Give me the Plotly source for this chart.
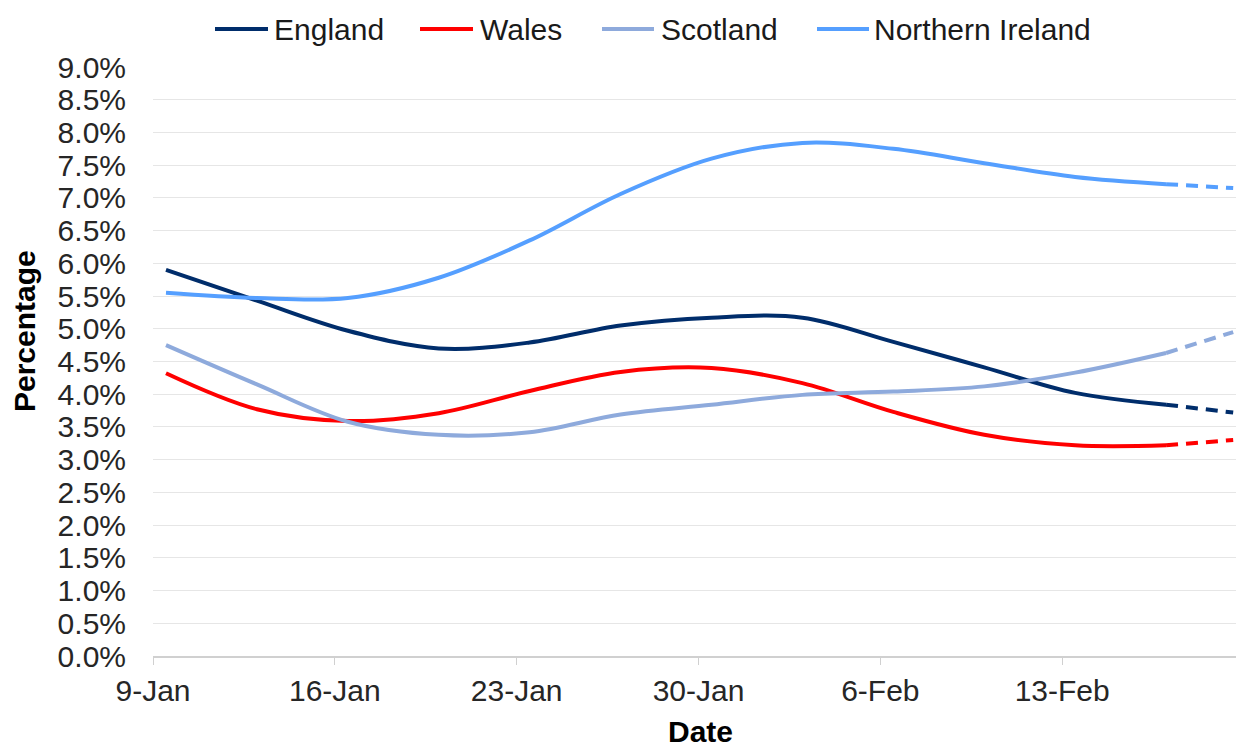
import plotly.graph_objects as go

# ---------------- data ----------------
dates_solid = [
    "2022-01-09 12:00", "2022-01-13 00:00", "2022-01-16 12:00", "2022-01-20 00:00",
    "2022-01-23 12:00", "2022-01-27 00:00", "2022-01-30 12:00", "2022-02-03 00:00",
    "2022-02-06 12:00", "2022-02-10 00:00", "2022-02-13 12:00", "2022-02-17 00:00",
]
dates_dashed = ["2022-02-17 00:00", "2022-02-19 14:00"]

england = [5.90, 5.43, 4.97, 4.70, 4.79, 5.05, 5.17, 5.17, 4.80, 4.41, 4.02, 3.84]
wales = [4.32, 3.77, 3.59, 3.71, 4.05, 4.34, 4.40, 4.17, 3.73, 3.38, 3.22, 3.22]
scotland = [4.75, 4.15, 3.58, 3.38, 3.42, 3.69, 3.84, 3.99, 4.04, 4.12, 4.33, 4.63]
n_ireland = [5.55, 5.47, 5.47, 5.78, 6.35, 7.06, 7.60, 7.84, 7.75, 7.53, 7.32, 7.21]

england_proj = [3.84, 3.72]
wales_proj = [3.22, 3.30]
scotland_proj = [4.63, 4.95]
n_ireland_proj = [7.21, 7.15]

series_names = ["England", "Wales", "Scotland", "Northern Ireland"]
series_colors = ["#002d6b", "#ff0000", "#8eaadc", "#559fff"]

tick_dates = ["2022-01-09", "2022-01-16", "2022-01-23", "2022-01-30", "2022-02-06", "2022-02-13"]
tick_labels = ["9-Jan", "16-Jan", "23-Jan", "30-Jan", "6-Feb", "13-Feb"]

y_ticks = [i * 0.5 for i in range(19)]
y_tick_labels = [f"{v:.1f}%" for v in y_ticks]

# ---------------- figure ----------------
FONT = "Liberation Sans, Arial, sans-serif"
PAGE_PAD = 8  # default body margin of the html page
W, H = 1244 - PAGE_PAD, 747 - PAGE_PAD
# plot area in window pixels: x 153..1244, y 67..656
ML = 153 - PAGE_PAD
MT = 67 - PAGE_PAD
MR = 0
MB = (PAGE_PAD + H) - 656
PW, PH = W - ML - MR, H - MT - MB

fig = go.Figure()

solid = [england, wales, scotland, n_ireland]
proj = [england_proj, wales_proj, scotland_proj, n_ireland_proj]

for name, color, vals, pvals in zip(series_names, series_colors, solid, proj):
    fig.add_trace(go.Scatter(
        x=dates_solid, y=vals, mode="lines", name=name,
        line=dict(color=color, width=4, shape="spline", smoothing=1.0),
        showlegend=False, hoverinfo="skip",
    ))
    fig.add_trace(go.Scatter(
        x=dates_dashed, y=pvals, mode="lines", name=name + " (projection)",
        line=dict(color=color, width=4, dash="12px,8px"),
        showlegend=False, hoverinfo="skip",
    ))

# helpers: window pixel -> paper coordinates
def px2paper_x(px):
    return (px - PAGE_PAD - ML) / PW

def py2paper_y(py):
    return (PAGE_PAD + H - MB - py) / PH

# custom legend (line sample + label)
legend_line_x = [(215, 268), (420, 473), (602, 654), (817, 869)]
legend_text_x = [272, 478, 659, 872]
legend_y = 29
shapes = []
annotations = []
for (x0, x1), tx, name, color in zip(legend_line_x, legend_text_x, series_names, series_colors):
    shapes.append(dict(
        type="line", xref="paper", yref="paper",
        x0=px2paper_x(x0), x1=px2paper_x(x1),
        y0=py2paper_y(legend_y), y1=py2paper_y(legend_y),
        line=dict(color=color, width=4),
    ))
    annotations.append(dict(
        text=name, xref="paper", yref="paper",
        x=px2paper_x(tx), y=py2paper_y(legend_y),
        xanchor="left", yanchor="middle", showarrow=False,
        font=dict(family=FONT, size=30, color="#1a1a1a"),
    ))

# axis titles
annotations.append(dict(
    text="<b>Percentage</b>", xref="paper", yref="paper",
    x=px2paper_x(24), y=py2paper_y(331), textangle=-90,
    xanchor="center", yanchor="middle", showarrow=False,
    font=dict(family=FONT, size=30, color="#000000"),
))
annotations.append(dict(
    text="<b>Date</b>", xref="paper", yref="paper",
    x=px2paper_x(700), y=py2paper_y(732),
    xanchor="center", yanchor="middle", showarrow=False,
    font=dict(family=FONT, size=30, color="#000000"),
))

fig.update_layout(
    template="none",
    width=W, height=H,
    margin=dict(l=ML, r=MR, t=MT, b=MB, pad=0, autoexpand=False),
    paper_bgcolor="white", plot_bgcolor="white",
    font=dict(family=FONT, size=30, color="#262626"),
    shapes=shapes, annotations=annotations,
    showlegend=False,
)

fig.update_xaxes(
    type="date", automargin=False,
    range=["2022-01-09", "2022-02-20"],
    tickmode="array", tickvals=tick_dates, ticktext=tick_labels,
    showgrid=False, showline=True, linecolor="#d0d0d0", linewidth=2,
    ticks="outside", ticklen=7, tickcolor="#d0d0d0", tickwidth=1,
    tickfont=dict(family=FONT, size=30, color="#262626"),
    zeroline=False, fixedrange=True,
)
fig.update_yaxes(
    automargin=False,
    range=[0, 9.0],
    tickmode="array", tickvals=y_ticks, ticktext=y_tick_labels,
    showgrid=True, gridcolor="#e6e6e6", gridwidth=1,
    showline=False, zeroline=False, ticks="",
    ticklabelstandoff=26,
    tickfont=dict(family=FONT, size=30, color="#262626"),
    fixedrange=True,
)

fig.write_html("out.html")
